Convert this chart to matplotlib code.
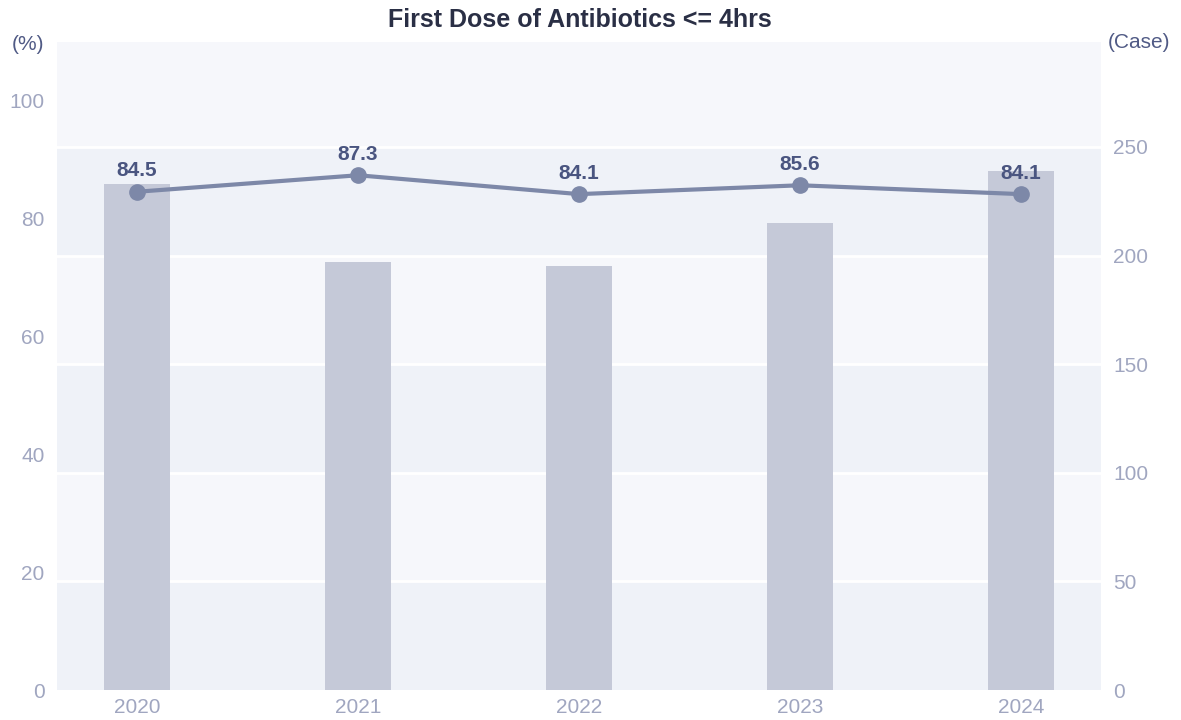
import matplotlib
matplotlib.use("Agg")
import matplotlib.pyplot as plt

years = ["2020", "2021", "2022", "2023", "2024"]
cases = [233, 197, 195, 215, 239]
rates = [84.5, 87.3, 84.1, 85.6, 84.1]
left_ticks = [0, 20, 40, 60, 80, 100]
right_ticks = [0, 50, 100, 150, 200, 250]

plt.rcParams['font.family'] = ['Liberation Sans', 'DejaVu Sans']

fig = plt.figure(figsize=(11.81, 7.2), dpi=100)
L, R, B, T = 57/1181, 1101/1181, 1 - 690/720, 1 - 42/720
ax = fig.add_axes([L, B, R - L, T - B])
ax.set_xlim(-0.362, 4.362)
ax.set_ylim(0, 298.3)

light, dark = "#f6f7fb", "#eff2f8"
bounds = [0, 50, 100, 150, 200, 250, 298.3]
for i in range(len(bounds) - 1):
    ax.axhspan(bounds[i], bounds[i + 1], color=dark if i % 2 == 0 else light, lw=0, zorder=0)
for v in right_ticks[1:]:
    ax.axhline(v, color="white", lw=2, zorder=1)

x = list(range(len(years)))
ax.bar(x, cases, width=0.3, color="#c5c9d8", zorder=2)

ax2 = ax.twinx()
ax2.set_ylim(0, 109.9)
ax2.plot(x, rates, color="#7d88a8", lw=3, marker="o", ms=11, zorder=3)
for xi, r in zip(x, rates):
    ax2.annotate(f"{r}", (xi, r), xytext=(0, 15), textcoords="offset points",
                 ha="center", va="center", fontsize=15, fontweight="bold", color="#4a5580")

ax.yaxis.tick_right()
ax.set_yticks(right_ticks)
ax.set_yticklabels([str(t) for t in right_ticks])
ax.set_xticks(x)
ax.set_xticklabels(years)
ax.tick_params(axis='both', length=0, labelsize=15, colors="#a0a6c0")
ax.tick_params(axis='y', pad=9)
ax.tick_params(axis='x', pad=6)
for s in ax.spines.values():
    s.set_visible(False)

ax2.yaxis.tick_left()
ax2.set_yticks(left_ticks)
ax2.set_yticklabels([str(t) for t in left_ticks])
ax2.tick_params(axis='y', length=0, labelsize=15, colors="#a0a6c0", pad=9)
for s in ax2.spines.values():
    s.set_visible(False)

fig.text(580/1181, 1 - 20/720, "First Dose of Antibiotics <= 4hrs", ha="center", va="center",
         fontsize=18, fontweight="bold", color="#2a2f45")
fig.text(28/1181, 1 - 45/720, "(%)", ha="center", va="center", fontsize=15, color="#505a85")
fig.text(1139/1181, 1 - 43/720, "(Case)", ha="center", va="center", fontsize=15, color="#505a85")

fig.savefig("out.png", dpi=100, facecolor="white")
